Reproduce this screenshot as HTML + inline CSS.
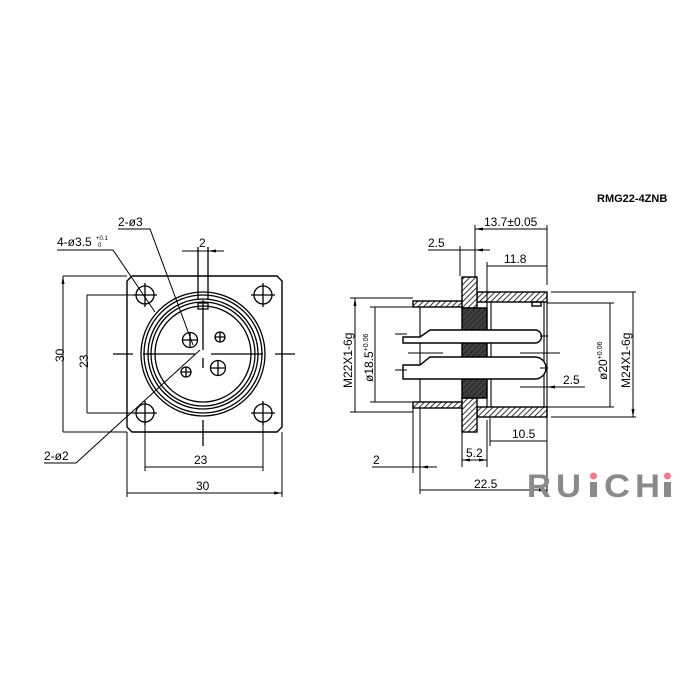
<!DOCTYPE html>
<html><head><style>body{margin:0;background:#fff}svg{display:block}text{font-family:"Liberation Sans",sans-serif;fill:#000}</style></head><body>
<svg width="700" height="700" viewBox="0 0 700 700" xmlns="http://www.w3.org/2000/svg">
<defs>
<pattern id="h" width="4" height="4" patternUnits="userSpaceOnUse" patternTransform="rotate(45)"><rect width="4" height="4" fill="#fff"/><line x1="0" y1="0" x2="0" y2="4" stroke="#000" stroke-width="1.6"/></pattern>
<pattern id="d" width="4" height="4" patternUnits="userSpaceOnUse" patternTransform="rotate(45)"><rect width="4" height="4" fill="#333"/><line x1="0" y1="0" x2="0" y2="4" stroke="#666" stroke-width="1"/></pattern>
<marker id="a" markerWidth="8" markerHeight="6" refX="8" refY="3" orient="auto-start-reverse" markerUnits="userSpaceOnUse"><path d="M0,1.5 L8,3 L0,4.5z" fill="#000"/></marker>
</defs>
<g stroke="#000" stroke-width="1.4" fill="none">
<path d="M132,276 H277 L282,281 V427 L277,432 H132 L127,427 V281 Z"/>
<g stroke-width="1.3">
<circle cx="145" cy="295" r="9"/><circle cx="263" cy="295" r="9"/><circle cx="145" cy="413" r="9"/><circle cx="263" cy="413" r="9"/>
<path d="M133,295h24M145,283v24M251,295h24M263,283v24M133,413h24M145,401v24M251,413h24M263,401v24"/>
<circle cx="203" cy="354" r="62"/><circle cx="203" cy="354" r="59"/>
<circle cx="203" cy="354" r="55"/><circle cx="203" cy="354" r="52"/><circle cx="203" cy="354" r="48"/>
<rect x="198" y="303" width="10" height="6"/>
<circle cx="190" cy="340" r="7.5"/><circle cx="220" cy="337" r="5"/><circle cx="218" cy="368" r="7.5"/><circle cx="186" cy="372" r="5"/>
<path d="M182,340h16M190,332v16M215,337h10M220,332v10M210,368h16M218,360v16M181,372h10M186,367v10"/>
<path d="M113,354h20M143,354h52M211,354h52M275,354h20M203,300v50M203,358v10M203,420v26"/>
<path d="M198,247v53M208,247v53"/>
</g>
<g stroke-width="1">
<path d="M63,276h64M63,432h64M87,295h58M87,413h58M127,432v65M282,432v65M145,413v58M263,413v58"/>
<path d="M63,276V432M87,295V413M145,467H263M127,493H282" marker-start="url(#a)" marker-end="url(#a)"/>
<path d="M182,251h16M224,251h-16" marker-end="url(#a)"/><path d="M198,251h10"/>
<path d="M57,250h56L155,312M118,229h32L193,345M44,463h32L200,350"/>
</g>
<rect x="413" y="301" width="49" height="6" fill="url(#h)"/>
<rect x="413" y="402" width="49" height="6" fill="url(#h)"/>
<rect x="477" y="292" width="70" height="10" fill="url(#h)"/>
<rect x="477" y="407" width="70" height="10" fill="url(#h)"/>
<rect x="462" y="277" width="15" height="31" fill="url(#h)"/>
<rect x="462" y="398" width="15" height="34" fill="url(#h)"/>
<rect x="462" y="308" width="25" height="90" fill="url(#d)"/>
<rect x="532" y="302" width="9" height="4"/>
<path d="M487,302V407M491,302V407M544,302V407M547,292V417M420,307V402" stroke-width="1.1"/>
<path d="M403,337 H420 L430,330 H535 A6.5,6.5 0 0 1 535,343 H403 Z" fill="#fff"/>
<path d="M403,365 H420 L430,357 H535 A11,11 0 0 1 535,379 H403 Z" fill="#fff"/>
<path d="M395,334h12M395,370h12M540,336h8M540,368h8M408,353h35M520,353h40" stroke-width="1.1"/>
<g stroke-width="1">
<path d="M350,298h63M350,412h63M370,307h50M370,402h50M547,303h67M547,407h67M551,292h85M551,417h85"/>
<path d="M355,298V412M375,307V402M610,303V407M633,292V417" marker-start="url(#a)" marker-end="url(#a)"/>
<path d="M475,229h72M487,266h60M490,441h57M420,490h127" marker-start="url(#a)" marker-end="url(#a)"/>
<path d="M475,225v52M547,225v60M487,262v40M460,246v30M490,418v28M462,432v35M487,420v47M420,408v86M413,408v65M547,417v78"/>
<path d="M428,250h32M490,250h-15" marker-end="url(#a)"/><path d="M460,250h15"/>
<path d="M462,460h25" marker-start="url(#a)" marker-end="url(#a)"/>
<path d="M372,467h41M437,467h-17" marker-end="url(#a)"/><path d="M413,467h7"/>
<path d="M520,387h24M585,387h-38" marker-end="url(#a)"/><path d="M544,387h3"/>
</g>
</g>
<g font-size="12">
<text x="57" y="246">4-ø3.5</text><text x="96" y="240" font-size="6">+0.1</text><text x="98" y="247" font-size="6">0</text>
<text x="118" y="226">2-ø3</text>
<text x="199" y="247">2</text>
<text x="44" y="460">2-ø2</text>
<text x="194" y="464">23</text><text x="196" y="490">30</text>
<text transform="translate(64,362) rotate(-90)">30</text>
<text transform="translate(88,368) rotate(-90)">23</text>
<text x="484" y="226">13.7±0.05</text>
<text x="428" y="247">2.5</text>
<text x="504" y="263">11.8</text>
<text x="512" y="438">10.5</text>
<text x="466" y="457">5.2</text>
<text x="373" y="464">2</text>
<text x="474" y="488">22.5</text>
<text x="563" y="384">2.5</text>
<text transform="translate(352,388) rotate(-90)">M22X1-6g</text>
<text transform="translate(373,382) rotate(-90)">ø18.5<tspan font-size="7" dy="-5">+0.06</tspan></text>
<text transform="translate(607,380) rotate(-90)">ø20<tspan font-size="7" dy="-5">+0.06</tspan></text>
<text transform="translate(630,388) rotate(-90)">M24X1-6g</text>
<text x="597" y="202" font-weight="bold" font-size="11">RMG22-4ZNB</text>
</g>
<g font-size="32" font-weight="bold" style="fill:#8a8a8a">
<text x="527" y="497" textLength="24" lengthAdjust="spacingAndGlyphs" style="fill:#8a8a8a">R</text>
<text x="556" y="497" textLength="25" lengthAdjust="spacingAndGlyphs" style="fill:#8a8a8a">U</text>
<rect x="590" y="482" width="7" height="15" fill="#8a8a8a"/>
<text x="604" y="497" textLength="26" lengthAdjust="spacingAndGlyphs" style="fill:#8a8a8a">C</text>
<text x="635" y="497" textLength="25" lengthAdjust="spacingAndGlyphs" style="fill:#8a8a8a">H</text>
<rect x="664" y="482" width="7" height="15" fill="#8a8a8a"/>
</g>
<circle cx="593.5" cy="476" r="3.5" fill="#f07c8a"/><circle cx="667.5" cy="476" r="3.5" fill="#f07c8a"/>
</svg>
</body></html>
